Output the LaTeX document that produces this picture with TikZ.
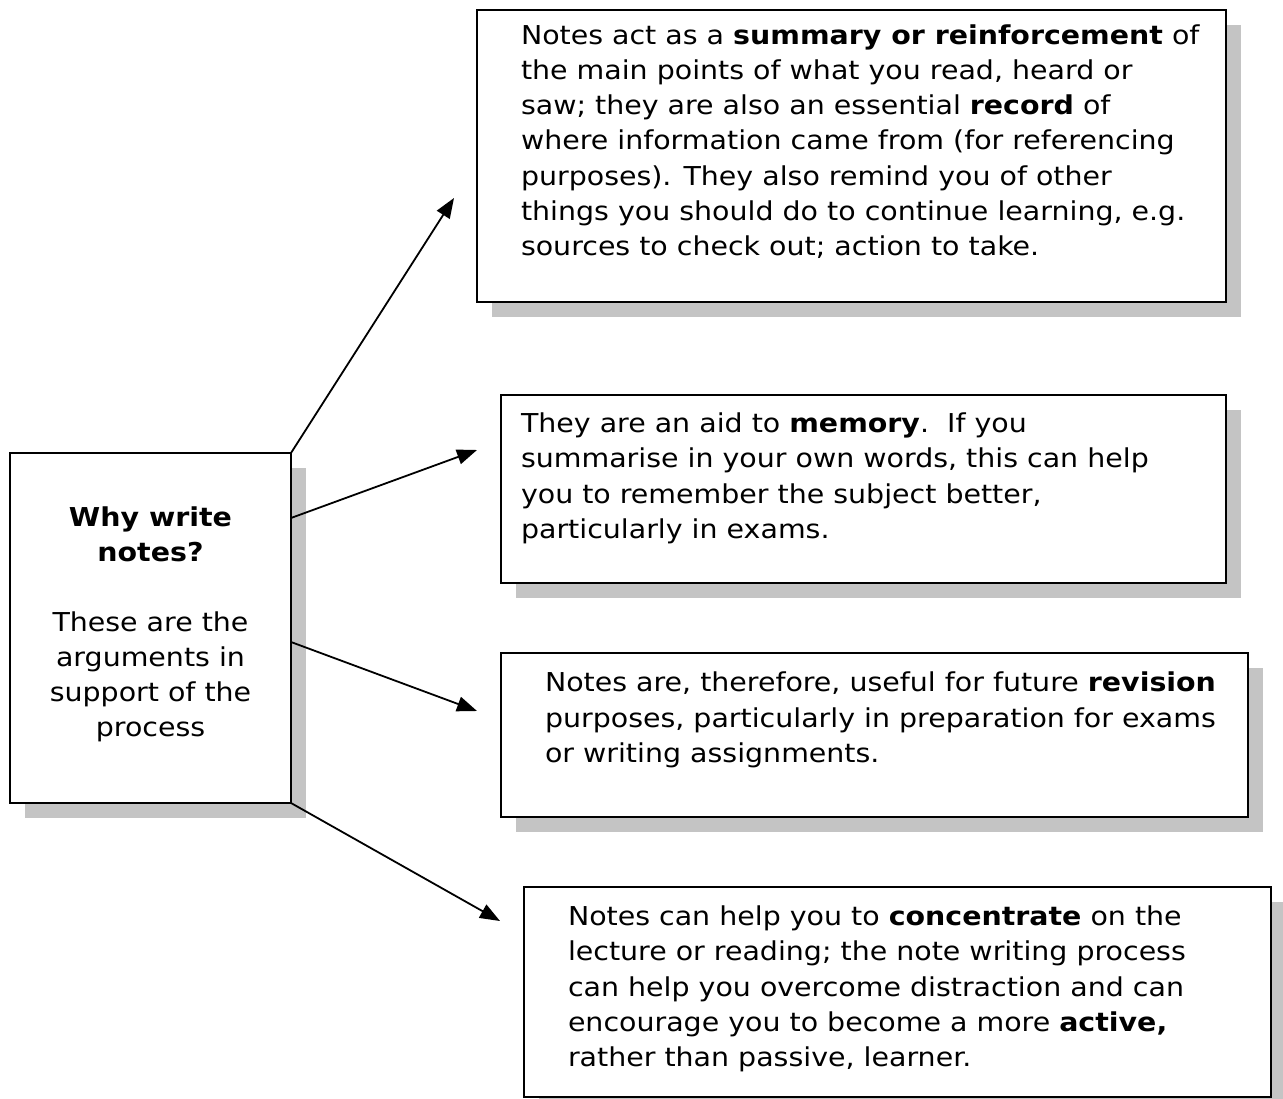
\documentclass[tikz,border=0pt]{standalone}
\usepackage{fontspec}
\setmainfont{DejaVu Sans}[FakeStretch=1.094]
\usetikzlibrary{arrows.meta,shadows}
\definecolor{shade}{RGB}{196,196,196}
\tikzset{
  card/.style={draw=black, line width=2pt, fill=white, inner sep=0pt, outer sep=0pt,
    anchor=north west,
    general shadow={shadow xshift=15pt, shadow yshift=-15pt, fill=shade}},
  body/.style={inner sep=0pt, outer sep=0pt, anchor=north west, align=left,
    font=\fontsize{26}{35.2}\selectfont},
  title/.style={inner sep=0pt, outer sep=0pt, anchor=north, align=center,
    font=\fontsize{26}{35}\selectfont},
  link/.style={line width=1.8pt, -{Triangle[length=20pt,width=15pt]}},
}
\begin{document}
\begin{tikzpicture}[x=1pt,y=-1pt]
\useasboundingbox (0,0) rectangle (1283,1099);

% boxes
\node[card, minimum width=281pt, minimum height=350pt] (why) at (10,453) {};
\node[card, minimum width=749pt, minimum height=292pt] (b1) at (477,10) {};
\node[card, minimum width=725pt, minimum height=188pt] (b2) at (501,395) {};
\node[card, minimum width=747pt, minimum height=164pt] (b3) at (501,653) {};
\node[card, minimum width=747pt, minimum height=210pt] (b4) at (524,887) {};

% texts
\node[title] (whyt) at ([shift={(140.5,54)}]why.north west)
  {\textbf{Why write}\\\textbf{notes?}\\[35pt]These are the\\arguments in\\support of the\\process};

\node[body] (t1) at ([shift={(44,14.5)}]b1.north west)
  {Notes act as a \textbf{summary or reinforcement} of\\
   the main points of what you read, heard or\\
   saw; they are also an essential \textbf{record} of\\
   where information came from (for referencing\\
   purposes). They also remind you of other\\
   things you should do to continue learning, e.g.\\
   sources to check out; action to take.};

\node[body] (t2) at ([shift={(20,18)}]b2.north west)
  {They are an aid to \textbf{memory}.\ \ If you\\
   summarise in your own words, this can help\\
   you to remember the subject better,\\
   particularly in exams.};

\node[body] (t3) at ([shift={(44,19.2)}]b3.north west)
  {Notes are, therefore, useful for future \textbf{revision}\\
   purposes, particularly in preparation for exams\\
   or writing assignments.};

\node[body] (t4) at ([shift={(44,19)}]b4.north west)
  {Notes can help you to \textbf{concentrate} on the\\
   lecture or reading; the note writing process\\
   can help you overcome distraction and can\\
   encourage you to become a more \textbf{active,}\\
   rather than passive, learner.};

% arrow tips
\coordinate (tip1) at (454,198);
\coordinate (tip2) at (477,450);
\coordinate (tip3) at (477,711);
\coordinate (tip4) at (500,921);

% connectors
\draw[link] (why.north east) -- (tip1);
\draw[link] ([shift={(0,65)}]why.north east) -- (tip2);
\draw[link] ([shift={(0,14)}]why.east) -- (tip3);
\draw[link] (why.south east) -- (tip4);
\end{tikzpicture}
\end{document}
